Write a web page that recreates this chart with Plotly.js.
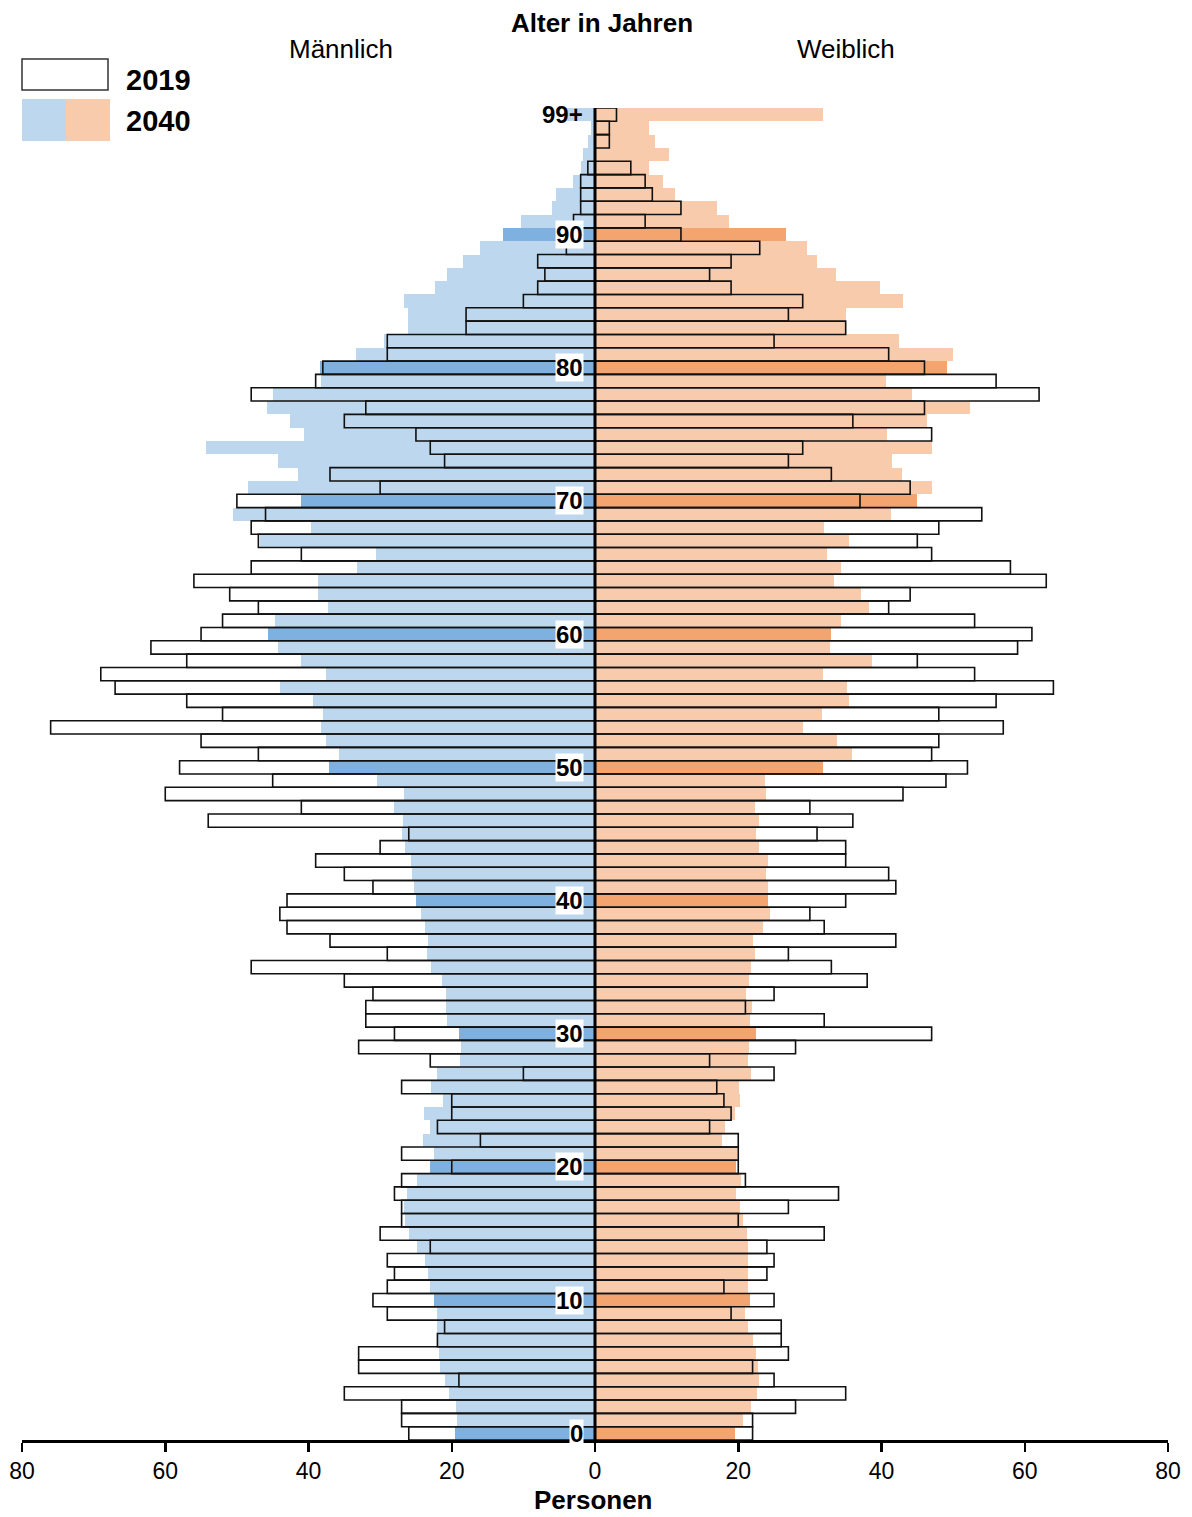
<!DOCTYPE html>
<html><head><meta charset="utf-8">
<script src="https://cdn.plot.ly/plotly-3.0.1.min.js"></script>
<style>html,body{margin:0;padding:0;background:#fff}</style>
</head><body><div id="chart" style="width:1192px;height:1517px"></div>
<script>
// Age groups (0 .. 99+)
const ages = [0,1,2,3,4,5,6,7,8,9,10,11,12,13,14,15,16,17,18,19,20,21,22,23,24,25,26,27,28,29,30,31,32,33,34,35,36,37,38,39,40,41,42,43,44,45,46,47,48,49,50,51,52,53,54,55,56,57,58,59,60,61,62,63,64,65,66,67,68,69,70,71,72,73,74,75,76,77,78,79,80,81,82,83,84,85,86,87,88,89,90,91,92,93,94,95,96,97,98,99];

// 2040 projection (Personen)
const male2040 = [19.6,19.3,19.4,20.4,20.9,21.6,21.8,22.0,22.0,22.1,22.5,23.1,23.3,23.8,24.8,26.0,26.5,26.6,26.3,24.8,23.1,22.5,24.0,23.1,23.9,21.2,22.9,22.0,18.8,18.7,19.0,20.6,20.8,20.8,21.4,22.9,23.5,23.3,23.8,24.3,25.0,25.3,25.5,25.7,26.5,27.0,26.8,28.0,26.6,30.4,37.1,35.7,37.6,38.2,38.0,39.4,44.0,37.6,41.1,44.2,45.6,44.7,37.3,38.7,38.7,33.2,30.6,46.8,39.6,50.5,41.1,48.4,41.5,44.3,54.3,40.6,42.6,45.8,44.9,38.2,38.4,33.4,29.5,26.1,26.1,26.6,22.3,20.7,18.4,16.0,12.8,10.4,6.0,5.5,3.1,2.0,1.7,1.0,0.5,4.0];
const female2040 = [19.5,20.6,21.8,22.6,22.9,22.7,22.5,22.1,21.4,21.0,21.6,21.4,21.4,21.3,21.4,21.2,20.7,20.3,19.7,20.4,19.7,19.8,17.7,18.1,19.6,20.3,20.1,21.8,21.3,21.5,22.5,21.7,21.9,21.1,21.5,21.8,22.4,22.1,23.4,24.4,24.2,24.2,23.9,24.2,22.9,22.5,22.9,22.4,23.9,23.7,31.9,35.9,33.8,29.1,31.7,35.4,35.2,31.9,38.7,32.8,33.0,34.3,38.2,37.2,33.4,34.4,32.4,35.4,32.0,41.3,44.9,47.1,42.9,41.5,47.1,40.8,46.4,52.4,44.2,40.6,49.2,50.0,42.5,35.0,35.0,43.0,39.8,33.7,31.0,29.6,26.6,18.7,17.1,11.1,9.5,7.6,10.4,8.4,7.5,31.8];

// 2019 (Personen)
const male2019 = [26,27,27,35,19,33,33,22,21,29,31,29,28,29,23,30,27,27,28,27,20,27,16,22,20,20,27,10,23,33,28,32,32,31,35,48,29,37,43,44,43,31,35,39,30,26,54,41,60,45,58,47,55,76,52,57,67,69,57,62,55,52,47,51,56,48,41,47,48,46,50,30,37,21,23,25,35,32,48,39,38,29,29,18,18,10,8,7,8,4,3,3,2,2,2,1,0,0,0,0];
const female2019 = [22,22,28,35,25,22,27,26,26,19,25,18,24,25,24,32,20,27,34,21,20,20,20,16,19,18,17,25,16,28,47,32,21,25,38,33,27,42,32,30,35,42,41,35,35,31,36,30,43,49,52,47,48,57,48,56,64,53,45,59,61,53,41,44,63,58,47,45,48,54,37,44,33,27,29,47,36,46,62,56,46,41,25,35,27,29,19,16,19,23,12,7,12,8,7,5,0,2,2,3];

// Axis / label texts
const xTickVals = [-80,-60,-40,-20,0,20,40,60,80];
const xTickText = ['80','60','40','20','0','20','40','60','80'];
const ageLabelAges = [0,10,20,30,40,50,60,70,80,90,99];
const ageLabelText = ['0','10','20','30','40','50','60','70','80','90','99+'];

const FONT = 'Liberation Sans, Arial, Helvetica, sans-serif';
const LIGHT_BLUE = '#bdd7ee', DARK_BLUE = '#7fb1e0';
const LIGHT_ORANGE = '#f8cbad', DARK_ORANGE = '#f4a56f';

const maleColors = ages.map(a => (a % 10 === 0) ? DARK_BLUE : LIGHT_BLUE);
const femaleColors = ages.map(a => (a % 10 === 0) ? DARK_ORANGE : LIGHT_ORANGE);

const traces = [
  {type:'bar', orientation:'h', y:ages, x:male2040.map(v=>-v), width:1,
   marker:{color:maleColors, line:{width:0}}, hoverinfo:'skip', showlegend:false},
  {type:'bar', orientation:'h', y:ages, x:female2040, width:1,
   marker:{color:femaleColors, line:{width:0}}, hoverinfo:'skip', showlegend:false},
  {type:'bar', orientation:'h', y:ages, x:male2019.map(v=>-v), width:1,
   marker:{color:'rgba(0,0,0,0)', line:{width:1.6, color:'#111'}}, hoverinfo:'skip', showlegend:false},
  {type:'bar', orientation:'h', y:ages, x:female2019, width:1,
   marker:{color:'rgba(0,0,0,0)', line:{width:1.6, color:'#111'}}, hoverinfo:'skip', showlegend:false}
];

// pixel -> paper helpers for decorations
const L = 22, R = 1168, T = 108, B = 1440;
const px = x => (x - L) / (R - L);
const py = y => (B - y) / (B - T);

const annotations = [
  {text:'<b>Alter in Jahren</b>', x:px(602), y:py(23), font:{size:26}},
  {text:'Männlich', x:px(341), y:py(49), font:{size:26}},
  {text:'Weiblich', x:px(846), y:py(49), font:{size:26}},
  {text:'<b>2019</b>', x:px(124), y:py(80), xanchor:'left', font:{size:29}},
  {text:'<b>2040</b>', x:px(124), y:py(121), xanchor:'left', font:{size:29}},
  {text:'<b>Personen</b>', x:px(593), y:py(1500), font:{size:26}}
].map(a => Object.assign({xref:'paper', yref:'paper', showarrow:false, xanchor:'center', yanchor:'middle'}, a));

ageLabelAges.forEach((a, i) => {
  annotations.push({
    xref:'x', yref:'y', x:0, y:a, xanchor:'right', yanchor:'middle', xshift:-11,
    text:'<b>' + ageLabelText[i] + '</b>', showarrow:false,
    font:{size:24, color:'#000'},
    bgcolor: ageLabelText[i] === '99+' ? 'rgba(0,0,0,0)' : '#ffffff', borderpad:0
  });
});

const shapes = [
  {type:'line', xref:'x', yref:'y', x0:0, x1:0, y0:-0.5, y1:99.5, line:{color:'#000', width:3}},
  {type:'rect', xref:'paper', yref:'paper', x0:px(22), x1:px(108), y0:py(59), y1:py(90),
   fillcolor:'#fff', line:{color:'#333', width:1.5}},
  {type:'rect', xref:'paper', yref:'paper', x0:px(22), x1:px(66), y0:py(99), y1:py(141),
   fillcolor:LIGHT_BLUE, line:{width:0}},
  {type:'rect', xref:'paper', yref:'paper', x0:px(66), x1:px(110), y0:py(99), y1:py(141),
   fillcolor:LIGHT_ORANGE, line:{width:0}}
];

const layout = {
  width:1192, height:1517,
  margin:{l:L, r:1192-R, t:T, b:1517-B, pad:0},
  paper_bgcolor:'#fff', plot_bgcolor:'#fff',
  font:{family:FONT, color:'#000'},
  barmode:'overlay', bargap:0,
  showlegend:false,
  xaxis:{range:[-80,80], tickvals:xTickVals, ticktext:xTickText,
         showline:true, linecolor:'#000', linewidth:2.5, mirror:false,
         ticks:'outside', ticklen:9, tickwidth:2.5, tickcolor:'#000',
         showgrid:false, zeroline:false, tickfont:{size:23, family:FONT}, fixedrange:true},
  yaxis:{range:[-0.5,99.5], visible:false, showgrid:false, zeroline:false, fixedrange:true},
  annotations:annotations,
  shapes:shapes
};

Plotly.newPlot('chart', traces, layout, {staticPlot:true, displayModeBar:false});
</script>
</body></html>
